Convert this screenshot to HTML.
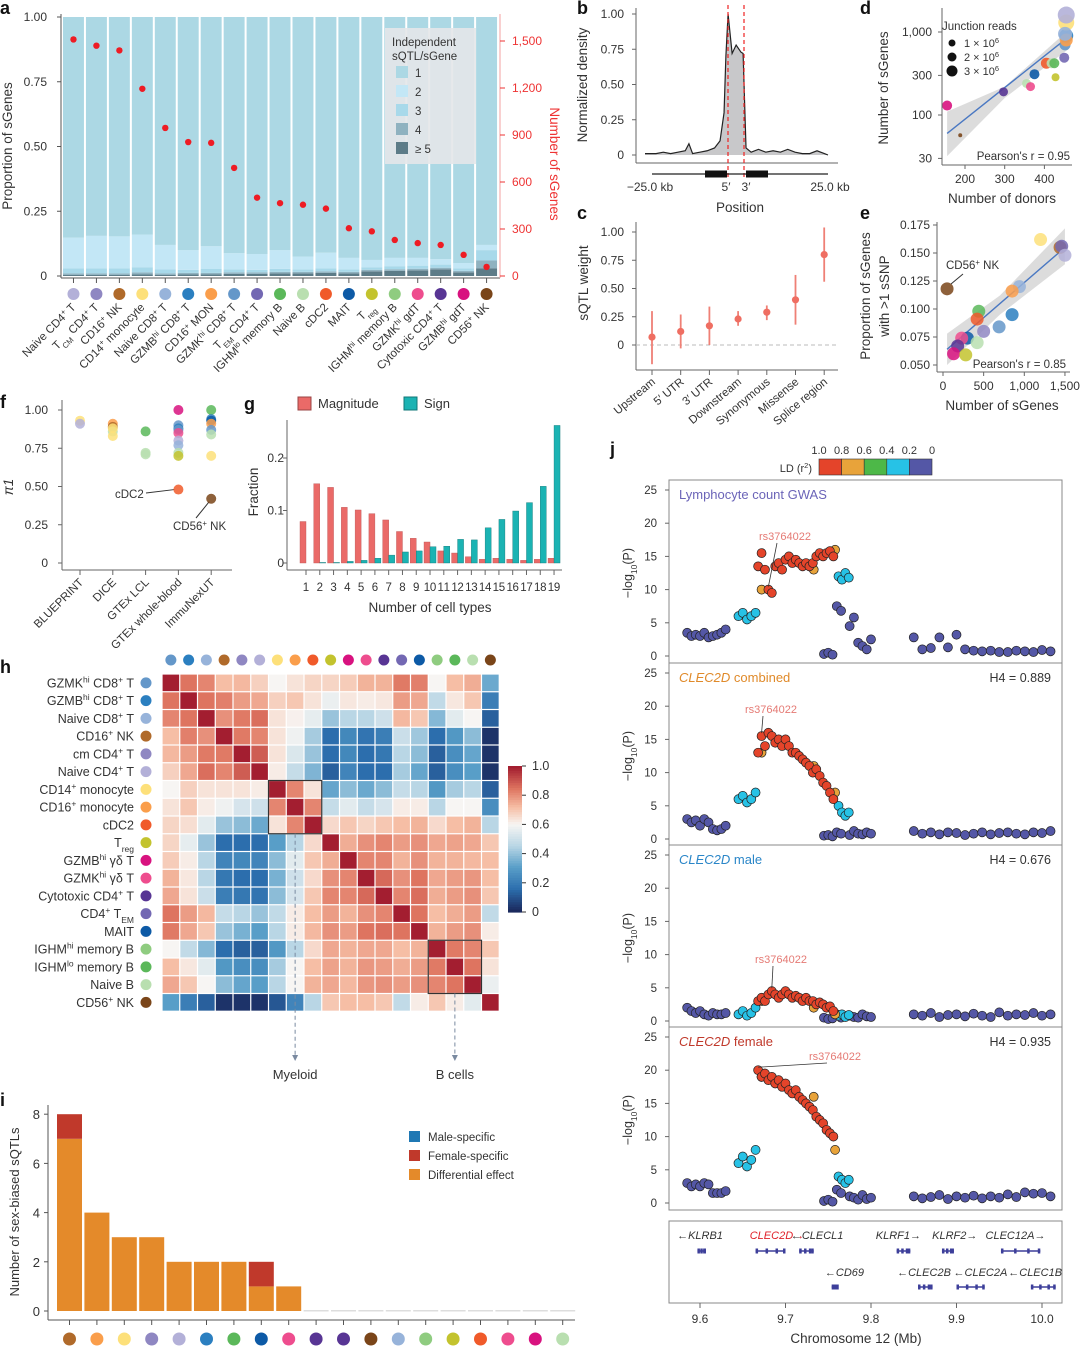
<!DOCTYPE html>
<html><head><meta charset="utf-8">
<style>
html,body{margin:0;padding:0;background:#fff;}
svg{display:block;font-family:"Liberation Sans",sans-serif;}
</style></head>
<body>
<svg id="fig" xmlns="http://www.w3.org/2000/svg" width="1080" height="1347" viewBox="0 0 1080 1347"></svg>
<script>
// ---------- DATA ----------
const aCells = ["Naive CD4^{+} T","T_{CM} CD4^{+} T","CD16^{+} NK","CD14^{+} monocyte","Naive CD8^{+} T","GZMB^{hi} CD8^{+} T","CD16^{+} MON","GZMK^{hi} CD8^{+} T","T_{EM} CD4^{+} T","IGHM^{lo} memory B","Naive B","cDC2","MAIT","T_{reg}","IGHM^{hi} memory B","GZMK^{hi} gdT","Cytotoxic CD4^{+} T","GZMB^{hi} gdT","CD56^{+} NK"];
const aColors = ["#b3b0d8","#8f87c2","#b06a2a","#fde07a","#97b3da","#2b7fc0","#fa9e4b","#6497c9","#7368b3","#5bb85a","#b9dfb0","#f05a2a","#0d5aa6","#c3c32e","#8fcc80","#ee4d8e","#583594","#d8127f","#7a4519"];
const aCounts = [1510,1470,1440,1195,945,855,850,690,500,465,455,430,305,285,230,210,198,135,58];
const aP5 = [.004,.004,.004,.006,.004,.006,.006,.008,.008,.01,.01,.012,.01,.018,.02,.022,.026,.014,.03];
const aP4 = [.006,.006,.006,.008,.006,.006,.006,.006,.006,.006,.006,.006,.006,.006,.006,.006,.006,.006,.03];
const aP3 = [.02,.02,.02,.02,.015,.012,.015,.012,.01,.012,.01,.012,.01,.01,.012,.012,.012,.01,.04];
const aP2 = [.118,.125,.123,.126,.095,.076,.088,.062,.061,.072,.049,.06,.044,.028,.032,.03,.021,.02,.02];
const aLeftTicks = [0,0.25,0.5,0.75,1];
const aLeftTickLabels = ["0","0.25","0.50","0.75","1.00"];
const aRightTicks = [0,300,600,900,1200,1500];
const aRightTickLabels = ["0","300","600","900","1,200","1,500"];

const bPos = [-25,-22,-20,-18,-16,-14,-13,-12,-10,-8,-6,-4.5,-3.4,-2.9,-2.3,-1.2,-0.1,1.2,1.8,2.6,4,6,8,10,12,14,16,18,20,22,24,25];
const bDens = [.01,.01,.02,.01,.02,.03,.08,.01,.02,.03,.05,.1,.3,.7,1.0,.72,.78,.73,.72,.05,.02,.04,.02,.03,.02,.04,.02,.01,.01,.03,.01,0];

const cCats = ["Upstream","5′ UTR","3′ UTR","Downstream","Synonymous","Missense","Splice region"];
const cMean = [.07,.12,.17,.23,.29,.4,.8];
const cLow = [-.17,-.03,0,.17,.22,.18,.56];
const cHigh = [.3,.27,.34,.3,.35,.62,1.04];

const dDonors = [155,188,297,355,365,375,405,418,425,428,450,452,455,455,455,455,452];
const dSgenes = [130,57,190,240,220,310,420,420,420,285,490,700,900,800,1300,1600,950];
const dColors = ["#d8127f","#7a4519","#583594","#b9dfb0","#ee4d8e","#0d5aa6","#f05a2a","#b9dfb0","#5bb85a","#c3c32e","#7368b3","#6497c9","#2b7fc0","#fa9e4b","#fde07a","#b3b0d8","#97b3da"];
const dSize = [5,2,4.5,4.5,4.5,5,5.5,5,5,4,5,5.5,7,6.5,8,8.5,7];

const eSgenes = [50,1200,1440,1460,1500,940,850,440,420,850,690,500,300,230,420,180,130,280];
const eProp = [.118,.162,.155,.156,.148,.12,.116,.098,.091,.095,.084,.080,.074,.074,.070,.067,.060,.059];
const eColors = ["#7a4519","#fde07a","#b06a2a","#7368b3","#b3b0d8","#97b3da","#fa9e4b","#5bb85a","#f05a2a","#2b7fc0","#6497c9","#8f87c2","#0d5aa6","#ee4d8e","#b9dfb0","#583594","#d8127f","#c3c32e"];

const fCats = ["BLUEPRINT","DICE","GTEx LCL","GTEx whole-blood","ImmuNexUT"];
const fGroup = [0,0,1,1,1,1,1,2,2,2,3,3,3,3,3,3,3,3,3,3,4,4,4,4,4,4,4,4];
const fPi = [.93,.91,.91,.89,.86,.83,.88,.86,.72,.71,1.0,.9,.88,.87,.85,.8,.77,.72,.70,.48,1.0,.94,.93,.91,.87,.84,.70,.42];
const fColors = ["#fde07a","#b3b0d8","#fa9e4b","#b06a2a","#b9dfb0","#fde07a","#fde07a","#5bb85a","#b9dfb0","#b9dfb0","#d8127f","#6497c9","#2b7fc0","#6497c9","#ee4d8e","#b3b0d8","#97b3da","#b9dfb0","#c3c32e","#f05a2a","#5bb85a","#2b7fc0","#0d5aa6","#fa9e4b","#6497c9","#b9dfb0","#fde07a","#7a4519"];

const gCats = [1,2,3,4,5,6,7,8,9,10,11,12,13,14,15,16,17,18,19];
const gMag = [.079,.151,.144,.106,.101,.094,.082,.06,.047,.04,.023,.019,.012,.007,.009,.007,.005,.007,.009];
const gSign = [0,.001,.001,.003,.005,.009,.015,.021,.023,.031,.032,.045,.044,.067,.083,.099,.115,.146,.262];

const hCells = ["GZMK^{hi} CD8^{+} T","GZMB^{hi} CD8^{+} T","Naive CD8^{+} T","CD16^{+} NK","cm CD4^{+} T","Naive CD4^{+} T","CD14^{+} monocyte","CD16^{+} monocyte","cDC2","T_{reg}","GZMB^{hi} γδ T","GZMK^{hi} γδ T","Cytotoxic CD4^{+} T","CD4^{+} T_{EM}","MAIT","IGHM^{hi} memory B","IGHM^{lo} memory B","Naive B","CD56^{+} NK"];
const hColors = ["#6497c9","#2b7fc0","#97b3da","#b06a2a","#8f87c2","#b3b0d8","#fde07a","#fa9e4b","#f05a2a","#c3c32e","#d8127f","#ee4d8e","#583594","#7368b3","#0d5aa6","#8fcc80","#5bb85a","#b9dfb0","#7a4519"];
const hMatrix = [
[1,.85,.82,.72,.73,.68,.6,.64,.67,.67,.69,.74,.74,.84,.83,.6,.72,.75,.33],
[.85,1,.85,.83,.78,.76,.68,.70,.64,.57,.63,.62,.63,.78,.76,.47,.63,.7,.2],
[.82,.85,1,.80,.84,.86,.64,.61,.56,.40,.45,.45,.5,.73,.70,.37,.55,.6,.12],
[.72,.83,.8,1,.84,.82,.64,.58,.42,.15,.23,.17,.2,.49,.41,.15,.28,.38,.02],
[.73,.78,.84,.84,1,.89,.64,.53,.40,.15,.23,.15,.18,.45,.38,.12,.25,.32,.02],
[.68,.76,.86,.82,.89,1,.62,.48,.36,.12,.22,.15,.15,.42,.32,.12,.25,.3,.02],
[.6,.68,.64,.64,.64,.62,1,.82,.64,.32,.38,.33,.38,.48,.45,.28,.42,.45,.12],
[.64,.70,.62,.58,.52,.5,.82,1,.82,.48,.55,.48,.52,.62,.62,.45,.6,.6,.25],
[.67,.65,.55,.40,.38,.33,.64,.82,1,.66,.70,.67,.70,.72,.74,.66,.72,.74,.45],
[.67,.56,.40,.15,.15,.15,.30,.45,.66,1,.75,.8,.82,.78,.80,.76,.77,.76,.7],
[.69,.62,.45,.22,.23,.22,.38,.55,.7,.75,1,.82,.82,.74,.80,.74,.74,.73,.72],
[.74,.63,.45,.18,.15,.15,.35,.5,.66,.8,.82,1,.87,.8,.85,.76,.78,.79,.72],
[.76,.64,.49,.20,.18,.17,.38,.52,.7,.82,.82,.87,1,.82,.86,.75,.78,.8,.7],
[.85,.78,.73,.48,.45,.40,.47,.62,.72,.78,.74,.80,.82,1,.85,.72,.75,.78,.47],
[.84,.76,.70,.40,.35,.30,.45,.62,.73,.80,.78,.85,.86,.85,1,.74,.78,.8,.62],
[.6,.47,.37,.15,.12,.12,.28,.45,.66,.76,.74,.76,.76,.72,.74,1,.84,.82,.7],
[.72,.63,.55,.28,.25,.25,.42,.6,.72,.77,.74,.79,.78,.75,.78,.84,1,.85,.64],
[.76,.7,.6,.38,.32,.3,.45,.6,.74,.76,.73,.79,.8,.78,.8,.82,.85,1,.57],
[.3,.2,.12,.02,.02,.02,.1,.22,.45,.7,.72,.72,.7,.47,.62,.7,.62,.55,1]];

const iColors = ["#b06a2a","#fa9e4b","#fde07a","#8f87c2","#b3b0d8","#2b7fc0","#5bb85a","#0d5aa6","#ee4d8e","#583594","#583594","#7a4519","#97b3da","#8fcc80","#c3c32e","#f05a2a","#ee4d8e","#d8127f","#b9dfb0"];
const iDiff = [7,4,3,3,2,2,2,1,1,0,0,0,0,0,0,0,0,0,0];
const iFemale = [1,0,0,0,0,0,0,1,0,0,0,0,0,0,0,0,0,0,0];
const iMale = [0,0,0,0,0,0,0,0,0,0,0,0,0,0,0,0,0,0,0];

const jPos = [9.585,9.59,9.595,9.60,9.605,9.61,9.615,9.62,9.625,9.63,
 9.645,9.65,9.655,9.66,9.665,
 9.668,9.672,9.676,9.68,9.684,9.688,9.692,9.696,9.70,9.704,9.708,9.712,9.716,9.72,9.724,9.728,9.732,9.736,9.74,9.744,9.748,9.752,9.756,
 9.672,9.733,9.758,
 9.762,9.766,9.77,9.774,
 9.745,9.75,9.755,
 9.76,9.765,9.775,9.78,9.785,9.79,9.795,9.80,
 9.85,9.86,9.87,9.88,9.89,9.90,9.91,9.92,9.93,9.94,9.95,9.96,9.97,9.98,9.99,10.0,10.01];
const jLD = [.1,.1,.1,.1,.1,.1,.1,.1,.1,.1, .3,.3,.3,.3,.3,
 .9,.9,.9,.9,.9,.9,.9,.9,.9,.9,.9,.9,.9,.9,.9,.9,.9,.9,.9,.9,.9,.9,.9,
 .7,.7,.7, .3,.3,.3,.3, .1,.1,.1, .1,.1,.1,.1,.1,.1,.1,.1,
 .1,.1,.1,.1,.1,.1,.1,.1,.1,.1,.1,.1,.1,.1,.1,.1,.1];
const jGwas = [3.5,3,3.2,3,3.5,2.8,3,3.2,3.5,4, 6,6.5,5.5,6,6.5,
 13.5,15.5,13,10,9.5,13.5,14,13,14.5,15,14,14.5,14,13.5,14,13.5,14,15,15.5,15,15.5,15.8,15,
 10,13,16, 12,11.5,12.5,11.8, .3,.5,.2, 7.5,6.8,4.5,5.8,2,1.5,1,2.5,
 2.8,1,1.2,2.8,1.3,3.2,1,.8,.7,.8,.6,.6,.8,.7,.6,.9,.7];
const jComb = [3,2.5,2.8,2,3,2.5,1.5,1.3,1.5,2, 6,6.5,5.5,6,7,
 13,15.5,14,16,15.5,14.5,15,14,15,14,13,13,12.5,12,11.5,11,10,10.5,9.5,8.5,8,7,6,
 13,11,7, 5,4,3.5,4, .5,.6,.4, 1,.8,.6,1.2,.8,.7,1,.8,
 1.2,.8,1,.7,1,.9,.6,.8,1,.7,.9,1,.8,.7,1,.9,1.2];
const jMale = [2,1.5,1.2,1.5,1,.8,1.2,1,1,1.2, 1,1.5,.8,1.2,2,
 3,3.5,3,4,4.5,4,3.5,4,4.5,4,3.5,3.8,3.5,3,3.5,3,3,2.5,2.8,2.5,2,2.2,1.5,
 3,2,1, .8,1,.6,.9, .5,.3,.4, 1,.5,.8,.6,.5,1,.7,.6,
 1,.8,1.2,.6,.9,1,.7,1.1,.8,.6,1.3,.8,1,.9,1.2,.8,1];
const jFemale = [3,2.5,2.8,2.5,3,2.8,1.5,1.5,1.5,1.8, 6,7,5.5,6.5,8,
 20,19,19.5,18.5,19,18,18.5,17.5,18,17,16.5,17,16,15.5,15,14.5,14,13,12.5,12,11,10.5,10,
 19,16,8, 4,3.5,3,3.5, .3,.5,.2, 2,1.5,1,.8,.5,1.2,.6,.8,
 1,.7,.9,1.2,.6,1,.8,1.1,.7,1,.8,1.3,.9,1.6,1.4,1.5,1];
const jTicks = [9.6,9.7,9.8,9.9,10.0];
const jTickLabels = ["9.6","9.7","9.8","9.9","10.0"];
const jYTicks = [0,5,10,15,20,25];
const genes = ["KLRB1","CLEC2D","CLECL1","KLRF1","KLRF2","CLEC12A","CD69","CLEC2B","CLEC2A","CLEC1B"];
const geneStart = [9.597,9.665,9.716,9.830,9.883,9.952,9.754,9.855,9.900,9.987];
const geneEnd = [9.607,9.700,9.733,9.846,9.897,9.998,9.762,9.872,9.933,10.016];
const geneRow = [0,0,0,0,0,0,1,1,1,1];
const geneDir = [-1,1,-1,1,1,1,-1,-1,-1,-1];
const geneLabelMb = [9.600,9.690,9.737,9.832,9.898,9.969,9.769,9.862,9.928,9.992];

// ---------- HELPERS ----------
const NS = "http://www.w3.org/2000/svg";
const svg = document.getElementById("fig");
function el(tag, a, parent){ const e = document.createElementNS(NS, tag); for (const k in a) e.setAttribute(k, a[k]); (parent||svg).appendChild(e); return e; }
function rich(t, s){
  const re = /(\^\{[^}]*\}|_\{[^}]*\})/g; let last = 0, m;
  const push = (str, kind) => { const ts = document.createElementNS(NS,"tspan"); ts.textContent = str;
    if (kind){ ts.setAttribute("font-size", "0.68em"); ts.setAttribute("baseline-shift", kind==="^" ? "super" : "sub"); }
    t.appendChild(ts); };
  while ((m = re.exec(s))){ if (m.index > last) push(s.slice(last, m.index)); push(m[0].slice(2,-1), m[0][0]); last = m.index + m[0].length; }
  if (last < s.length) push(s.slice(last));
}
function txt(x, y, s, o){ o = o||{}; const t = el("text", {x:x, y:y, "font-size":o.size||12, fill:o.fill||"#333", "text-anchor":o.anchor||"start"});
  if (o.rot) t.setAttribute("transform", `rotate(${o.rot} ${x} ${y})`);
  if (o.weight) t.setAttribute("font-weight", o.weight);
  if (o.style) t.setAttribute("font-style", o.style);
  rich(t, s); return t; }
function line(x1,y1,x2,y2,c,w,dash){ const l = el("line",{x1:x1,y1:y1,x2:x2,y2:y2,stroke:c||"#555","stroke-width":w||1}); if (dash) l.setAttribute("stroke-dasharray",dash); return l; }

[["a",0,14],["b",577,14],["c",577,219],["d",860,14],["e",860,219],["f",0,408],["g",244,410],["h",0,673],["i",0,1106],["j",610,455]].forEach(p=>{
  const t = txt(p[1], p[2], p[0], {size:18, weight:"bold", fill:"#111"});
  
  
});

// ---------- PANEL A ----------
(function(){
  const x0 = 62, slot = 22.95;
  const ay = v => 276 - v*259;
  const ar = n => 276 - n*47/300;
  const ax = i => x0 + i*slot;
  aCells.forEach((c,i)=>{
    const x = ax(i)+1, w = slot-2;
    let cum = 0;
    const parts = [[aP5[i],"#5d7c88"],[aP4[i],"#8fb2c0"],[aP3[i],"#a8d9ea"],[aP2[i],"#c3e7f6"]];
    parts.forEach((p,k)=>{
      const r = el("rect",{x:x, y:ay(cum+p[0]), width:w, height:p[0]*259, fill:p[1]});
      
      
      cum += p[0];
    });
    const r1 = el("rect",{x:x, y:ay(1), width:w, height:(1-cum)*259, fill:"#acd8e4"});
    
    
    const d = el("circle",{cx:x+w/2, cy:ar(aCounts[i]), r:3.2, fill:"#ee1c24"});
    
    
    line(x+w/2, 278, x+w/2, 283, "#555");
    const cd = el("circle",{cx:x+w/2, cy:294, r:6, fill:aColors[i]});
    
    
    const lt = txt(x+w/2+3, 308, c, {anchor:"end", rot:-45, size:11.5});
    
    
  });
  line(61, 14, 61, 278, "#555"); line(61, 278, 500, 278, "#555");
  line(500, 14, 500, 278, "#f3a0a0");
  aLeftTicks.forEach((v,k)=>{ line(57, ay(v), 61, ay(v), "#555"); txt(47, ay(v)+4, aLeftTickLabels[k], {anchor:"end"}); });
  aRightTicks.forEach((v,k)=>{ line(500, ar(v), 505, ar(v), "#e33"); txt(512, ar(v)+4, aRightTickLabels[k], {fill:"#e33"}); });
  const yl = txt(12, 146, "Proportion of sGenes", {anchor:"middle", rot:-90, size:13.5});
   
  const yr = txt(550, 164, "Number of sGenes", {anchor:"middle", rot:90, size:13.5, fill:"#e33"});
   
  const lg = el("rect",{x:385, y:28, width:91, height:136, fill:"#e4e7e9", opacity:0.9});
   
  txt(392, 46, "Independent", {size:11.5}); txt(392, 60, "sQTL/sGene", {size:11.5});
  const lc = ["#acd8e4","#c3e7f6","#a8d9ea","#8fb2c0","#5d7c88"], ll = ["1","2","3","4","≥ 5"];
  ll.forEach((l,k)=>{ const r = el("rect",{x:396, y:66+k*19, width:12, height:12, fill:lc[k]});
     
    txt(415, 77+k*19, l, {size:11.5}); });
})();

// ---------- PANEL B ----------
(function(){
  const bx = k => 645 + (k+25)*3.66;
  const by = v => 155 - v*141;
  let d = `M${bx(bPos[0])},${by(0)}`;
  bPos.forEach((p,i)=> d += ` L${bx(p)},${by(bDens[i])}`);
  const area = el("path",{d:d+` L${bx(25)},${by(0)} Z`, fill:"#c8c8ca"});
   
  let d2 = ""; bPos.forEach((p,i)=> d2 += (i?" L":"M")+bx(p)+","+by(bDens[i]));
  const ln = el("path",{d:d2, fill:"none", stroke:"#222", "stroke-width":1.2});
   
  line(636, 8, 636, 163, "#666"); line(636, 163, 838, 163, "#666");
  [[0,"0"],[.25,"0.25"],[.5,"0.50"],[.75,"0.75"],[1,"1.00"]].forEach(t=>{ line(632, by(t[0]), 636, by(t[0]), "#666"); txt(624, by(t[0])+4, t[1], {anchor:"end"}); });
  line(728, 5, 728, 178, "#e22", 1.2, "4,3"); line(744, 5, 744, 178, "#e22", 1.2, "4,3");
  line(652, 174, 828, 174, "#222", 1.2);
  el("rect",{x:705, y:170.5, width:22, height:7, fill:"#111"}); el("rect",{x:746, y:170.5, width:22, height:7, fill:"#111"});
  txt(650, 191, "−25.0 kb", {anchor:"middle"}); txt(830, 191, "25.0 kb", {anchor:"middle"});
  txt(726, 191, "5′", {anchor:"middle"}); txt(746, 191, "3′", {anchor:"middle"});
  txt(740, 212, "Position", {anchor:"middle", size:13.5});
  txt(587, 85, "Normalized density", {anchor:"middle", rot:-90, size:13.5});
})();

// ---------- PANEL C ----------
(function(){
  const cy = v => 345 - v*113;
  const cx = i => 652 + i*28.7;
  line(636, 222, 636, 370, "#666"); line(636, 370, 838, 370, "#666");
  line(636, cy(0), 838, cy(0), "#bbb", 1, "4,3");
  [[0,"0"],[.25,"0.25"],[.5,"0.50"],[.75,"0.75"],[1,"1.00"]].forEach(t=>{ line(632, cy(t[0]), 636, cy(t[0]), "#666"); txt(624, cy(t[0])+4, t[1], {anchor:"end"}); });
  cCats.forEach((c,i)=>{
    const e = line(cx(i), cy(cLow[i]), cx(i), cy(cHigh[i]), "#ef8076", 1.8);
     
    const p = el("circle",{cx:cx(i), cy:cy(cMean[i]), r:3.6, fill:"#ef6e62"});
     
    line(cx(i), 370, cx(i), 375, "#666");
    txt(cx(i)+4, 383, c, {anchor:"end", rot:-40, size:11.5});
  });
  txt(588, 283, "sQTL weight", {anchor:"middle", rot:-90, size:13.5});
})();

// ---------- PANEL D ----------
(function(){
  const dx = v => 965 + (v-200)*0.397;
  const dy = v => 115 - (Math.log10(v)-2)*83;
  el("polygon",{points:`${dx(155)},${dy(110)} ${dx(300)},${dy(220)} ${dx(460)},${dy(1050)} ${dx(460)},${dy(620)} ${dx(300)},${dy(160)} ${dx(155)},${dy(32)}`, fill:"#d6d6d6", opacity:0.85});
  const rl = line(dx(155), dy(60), dx(460), dy(870), "#4a78c2", 1.4);
   
  dDonors.forEach((v,i)=>{ const c = el("circle",{cx:dx(v), cy:dy(dSgenes[i]), r:dSize[i], fill:dColors[i], opacity:0.9});
      });
  line(942, 8, 942, 165, "#666"); line(942, 165, 1072, 165, "#666");
  [[30,"30"],[100,"100"],[300,"300"],[1000,"1,000"]].forEach(t=>{ line(938, dy(t[0]), 942, dy(t[0]), "#666"); txt(932, dy(t[0])+4, t[1], {anchor:"end"}); });
  [200,300,400].forEach(v=>{ line(dx(v),165,dx(v),169,"#666"); txt(dx(v), 183, String(v), {anchor:"middle"}); });
  txt(1002, 203, "Number of donors", {anchor:"middle", size:13.5});
  txt(888, 88, "Number of sGenes", {anchor:"middle", rot:-90, size:13.5});
  txt(942, 30, "Junction reads", {size:11.5});
  [[3.5,"1 × 10^{6}",43],[4.5,"2 × 10^{6}",57],[5.5,"3 × 10^{6}",71]].forEach(l=>{ el("circle",{cx:952, cy:l[2], r:l[0], fill:"#111"}); txt(964, l[2]+4, l[1], {size:11}); });
  txt(1070, 160, "Pearson's r = 0.95", {anchor:"end", size:11.5});
})();

// ---------- PANEL E ----------
(function(){
  const ex = v => 943 + v*0.0813;
  const ey = v => 365 - (v-0.05)/0.025*28;
  el("polygon",{points:`${ex(50)},${ey(.078)} ${ex(700)},${ey(.112)} ${ex(1500)},${ey(.172)} ${ex(1500)},${ey(.14)} ${ex(700)},${ey(.095)} ${ex(50)},${ey(.050)}`, fill:"#d6d6d6", opacity:0.85});
  const rl = line(ex(50), ey(.064), ex(1500), ey(.155), "#4a78c2", 1.4);
   
  eSgenes.forEach((v,i)=>{ const c = el("circle",{cx:ex(v), cy:ey(eProp[i]), r:6.5, fill:eColors[i], opacity:0.85});
      });
  line(937, 222, 937, 372, "#666"); line(937, 372, 1070, 372, "#666");
  [[.05,"0.050"],[.075,"0.075"],[.1,"0.100"],[.125,"0.125"],[.15,"0.150"],[.175,"0.175"]].forEach(t=>{ line(933, ey(t[0]), 937, ey(t[0]), "#666"); txt(930, ey(t[0])+4, t[1], {anchor:"end"}); });
  [[0,"0"],[500,"500"],[1000,"1,000"],[1500,"1,500"]].forEach(t=>{ line(ex(t[0]),372,ex(t[0]),376,"#666"); txt(ex(t[0]), 390, t[1], {anchor:"middle"}); });
  txt(1002, 410, "Number of sGenes", {anchor:"middle", size:13.5});
  txt(870, 296, "Proportion of sGenes", {anchor:"middle", rot:-90, size:13.5});
  txt(889, 296, "with >1 sSNP", {anchor:"middle", rot:-90, size:13.5});
  txt(946, 269, "CD56^{+} NK", {size:11.5}); line(963, 274, 951, 284, "#333");
  txt(1066, 368, "Pearson's r = 0.85", {anchor:"end", size:11.5});
})();

// ---------- PANEL F ----------
(function(){
  const fx = i => 80 + i*32.8;
  const fy = v => 563 - v*153;
  line(62, 400, 62, 570, "#666"); line(62, 570, 232, 570, "#666");
  [[0,"0"],[.25,"0.25"],[.5,"0.50"],[.75,"0.75"],[1,"1.00"]].forEach(t=>{ line(58, fy(t[0]), 62, fy(t[0]), "#666"); txt(48, fy(t[0])+4, t[1], {anchor:"end"}); });
  fCats.forEach((c,i)=>{ line(fx(i),570,fx(i),575,"#666"); txt(fx(i)+4, 583, c, {anchor:"end", rot:-45, size:11.5}); });
  line(146, 493, fx(3)-4, fy(.48), "#333"); line(fx(4)-2, fy(.42)+3, 196, 518, "#333");
  fPi.forEach((v,i)=>{ const c = el("circle",{cx:fx(fGroup[i]), cy:fy(v), r:5, fill:fColors[i], opacity:0.85});
      });
  txt(115, 498, "cDC2", {size:11.5}); txt(173, 530, "CD56^{+} NK", {size:11.5});
  txt(13, 487, "π1", {anchor:"middle", rot:-90, size:13.5, style:"italic"});
})();

// ---------- PANEL G ----------
(function(){
  const gx = i => 306 + i*13.78;
  const gy = v => 563 - v*525;
  line(287, 420, 287, 570, "#666"); line(287, 570, 562, 570, "#666");
  [[0,"0"],[.1,"0.1"],[.2,"0.2"]].forEach(t=>{ line(283, gy(t[0]), 287, gy(t[0]), "#666"); txt(284, gy(t[0])+4, t[1], {anchor:"end"}); });
  gCats.forEach((c,i)=>{
    const m = el("rect",{x:gx(i)-6, y:gy(gMag[i]), width:6, height:gMag[i]*525, fill:"#ea6a68", stroke:"#b55", "stroke-width":0.4});
     
    const s = el("rect",{x:gx(i), y:gy(gSign[i]), width:6, height:gSign[i]*525, fill:"#1bb3b3", stroke:"#177", "stroke-width":0.4});
     
    line(gx(i),570,gx(i),575,"#666");
    const t = txt(gx(i), 591, String(c), {anchor:"middle", size:11.5});
    if (c >= 10) t.setAttribute("textLength", "12.5");
  });
  txt(430, 612, "Number of cell types", {anchor:"middle", size:13.5});
  txt(258, 492, "Fraction", {anchor:"middle", rot:-90, size:13.5});
  el("rect",{x:298, y:397, width:13, height:13, fill:"#ea6a68", stroke:"#944"}); txt(318, 408, "Magnitude", {size:13});
  el("rect",{x:404, y:397, width:13, height:13, fill:"#1bb3b3", stroke:"#177"}); txt(424, 408, "Sign", {size:13});
})();

// ---------- PANEL H ----------
function rdbu(v){
  const st = [[0,[27,42,94]],[.15,[44,110,173]],[.3,[88,158,200]],[.45,[185,214,229]],[.6,[247,245,243]],[.72,[246,190,165]],[.85,[222,116,96]],[1,[163,30,48]]];
  v = Math.max(0, Math.min(1, v));
  for (let k=1;k<st.length;k++){ if (v <= st[k][0]){ const a=st[k-1], b=st[k], t=(v-a[0])/(b[0]-a[0]);
    return `rgb(${a[1].map((c,j)=>Math.round(c+(b[1][j]-c)*t)).join(",")})`; } }
  return "rgb(163,30,48)";
}
(function(){
  const x0 = 162, y0 = 674, cs = 17.75;
  hCells.forEach((c,i)=>{
    const t = txt(134, y0+i*cs+cs/2+4.5, c, {anchor:"end", size:12.5});
     
    el("circle",{cx:146, cy:y0+i*cs+cs/2, r:5.5, fill:hColors[i]});
    el("circle",{cx:x0+i*cs+cs/2, cy:660, r:5.5, fill:hColors[i]});
    hMatrix[i].forEach((v,j)=>{
      const r = el("rect",{x:x0+j*cs+0.6, y:y0+i*cs+0.6, width:cs-1.2, height:cs-1.2, fill:rdbu(v)});
       
    });
  });
  el("rect",{x:x0+6*cs, y:y0+6*cs, width:3*cs, height:3*cs, fill:"none", stroke:"#333", "stroke-width":1.2});
  el("rect",{x:x0+15*cs, y:y0+15*cs, width:3*cs, height:3*cs, fill:"none", stroke:"#333", "stroke-width":1.2});
  const mx = x0+7.5*cs, bx = x0+16.5*cs;
  line(mx, y0+9*cs, mx, 1058, "#7a8aa0", 1, "4,3"); el("path",{d:`M${mx-3},${1055} L${mx+3},${1055} L${mx},${1061} Z`, fill:"#7a8aa0"});
  line(bx, y0+18*cs, bx, 1058, "#7a8aa0", 1, "4,3"); el("path",{d:`M${bx-3},${1055} L${bx+3},${1055} L${bx},${1061} Z`, fill:"#7a8aa0"});
  txt(mx, 1079, "Myeloid", {anchor:"middle", size:13}); txt(bx, 1079, "B cells", {anchor:"middle", size:13});
  const cbTicks = [0,.2,.4,.6,.8,1], cbLabels = ["0","0.2","0.4","0.6","0.8","1.0"];
  for (let k=0;k<60;k++){ const v = 1-k/59; el("rect",{x:508, y:766+k*146/60, width:14, height:146/60+0.6, fill:rdbu(v)}); }
  cbTicks.forEach((v,k)=>{ const y = 912 - v*146; line(522, y, 526, y, "#333"); txt(532, y+4, cbLabels[k], {size:12.5}); });
})();

// ---------- PANEL I ----------
(function(){
  const ix = i => 57 + i*27.4;
  const iy = v => 1311 - v*24.6;
  line(48, 1105, 48, 1320, "#555"); line(48, 1320, 575, 1320, "#555");
  [0,2,4,6,8].forEach(v=>{ line(44, iy(v), 48, iy(v), "#555"); txt(40, iy(v)+5, String(v), {anchor:"end", size:13}); });
  iDiff.forEach((v,i)=>{
    const x = ix(i), w = 25;
    const rd = el("rect",{x:x, y:iy(v), width:w, height:v*24.6, fill:"#e48a2a"});
     
    const rf = el("rect",{x:x, y:iy(v+iFemale[i]), width:w, height:iFemale[i]*24.6, fill:"#c0392b"});
     
    const rm = el("rect",{x:x, y:iy(v+iFemale[i]+iMale[i]), width:w, height:iMale[i]*24.6, fill:"#1f78b4"});
     
    if (v+iFemale[i]+iMale[i]===0) el("rect",{x:x, y:1310, width:w, height:1.5, fill:"#ddd"});
    line(x+w/2, 1320, x+w/2, 1325, "#555");
    el("circle",{cx:x+w/2, cy:1339, r:6.5, fill:iColors[i]});
  });
  txt(19, 1212, "Number of sex-biased sQTLs", {anchor:"middle", rot:-90, size:13});
  [["#1f78b4","Male-specific"],["#c0392b","Female-specific"],["#e48a2a","Differential effect"]].forEach((l,k)=>{
    const r = el("rect",{x:409, y:1131+k*19, width:11, height:11, fill:l[0]});
     
    txt(428, 1141+k*19, l[1], {size:11.5}); });
})();

// ---------- PANEL J ----------
(function(){
  const jx = v => 700 + (v-9.6)*855;
  const ldColor = v => v>=.8 ? "#e4442a" : v>=.6 ? "#e8a33a" : v>=.4 ? "#4db848" : v>=.2 ? "#27c2e6" : "#5457a6";
  const ldc = ["#e4442a","#e8a33a","#4db848","#27c2e6","#5457a6"];
  ldc.forEach((c,k)=>{ el("rect",{x:819+k*22.6, y:459, width:22.6, height:16, fill:c, stroke:"#333", "stroke-width":0.6}); });
  ["1.0","0.8","0.6","0.4","0.2","0"].forEach((l,k)=> txt(819+k*22.6, 454, l, {anchor:"middle", size:11}));
  txt(812, 472, "LD (r^{2})", {anchor:"end", size:11});
  const panels = [
    {top:490, data:jGwas, title:"Lymphocyte count GWAS", tc:"#6b64b8", h4:"", lab:[785,540], pk:18},
    {top:673, data:jComb, title:"CLEC2D combined", tc:"#e08a2a", h4:"H4 = 0.889", lab:[771,713], pk:16},
    {top:855, data:jMale, title:"CLEC2D male", tc:"#2a86c8", h4:"H4 = 0.676", lab:[781,963], pk:19},
    {top:1037, data:jFemale, title:"CLEC2D female", tc:"#c0392b", h4:"H4 = 0.935", lab:[835,1060], pk:15}];
  el("rect",{x:669, y:480, width:393, height:730, fill:"none", stroke:"#888", "stroke-width":1});
  panels.forEach((p,pi)=>{
    const jy = v => p.top + 166 - v*6.64;
    if (pi>0) line(669, p.top-10, 1062, p.top-10, "#888");
    jYTicks.forEach(v=>{ line(665, jy(v), 669, jy(v), "#666"); txt(657, jy(v)+4, String(v), {anchor:"end", size:11.5}); });
    txt(632, p.top+83, "−log_{10}(P)", {anchor:"middle", rot:-90, size:12.5});
    const t = txt(679, p.top+9, p.title, {size:13, fill:p.tc});
    if (pi>0){ t.textContent=""; const a=document.createElementNS(NS,"tspan"); a.setAttribute("font-style","italic"); a.textContent="CLEC2D"; t.appendChild(a);
      const b=document.createElementNS(NS,"tspan"); b.textContent=p.title.replace("CLEC2D",""); t.appendChild(b); }
    if (p.h4) txt(1051, p.top+9, p.h4, {anchor:"end", size:12.5});
    const order = jPos.map((v,i)=>i).sort((a,b)=>jLD[a]-jLD[b]);
    order.forEach(i=>{
      const c = el("circle",{cx:jx(jPos[i]), cy:jy(p.data[i]), r:4.5, fill:ldColor(jLD[i]), stroke:"#222", "stroke-width":0.7});
      
      
    });
    txt(p.lab[0], p.lab[1], "rs3764022", {anchor:"middle", size:11, fill:"#e57a74"});
    line(p.lab[0]-8, p.lab[1]+3, jx(jPos[p.pk]), jy(p.data[p.pk])-3, "#333", 0.8);
  });
  el("rect",{x:669, y:1221, width:393, height:82, fill:"none", stroke:"#888"});
  genes.forEach((g,i)=>{
    const y = geneRow[i] ? 1287 : 1251;
    const ly = geneRow[i] ? 1276 : 1239;
    const s = jx(geneStart[i]), e = jx(geneEnd[i]);
    line(s, y, e, y, "#3d3f9a", 1.5);
    for (let k=0;k<3;k++){ el("rect",{x:s+k*(e-s)/3, y:y-2.5, width:2.5, height:5, fill:"#3d3f9a"}); }
    el("rect",{x:e-2.5, y:y-2.5, width:2.5, height:5, fill:"#3d3f9a"});
    const lbl = geneDir[i]<0 ? "←"+g : g+"→";
    const t = txt(jx(geneLabelMb[i]), ly, lbl, {anchor:"middle", size:11, style:"italic", fill: g==="CLEC2D" ? "#e0222a" : "#333"});
    
    
  });
  jTicks.forEach((v,k)=>{ line(jx(v), 1303, jx(v), 1308, "#666"); txt(jx(v), 1323, jTickLabels[k], {anchor:"middle", size:12}); });
  txt(856, 1343, "Chromosome 12 (Mb)", {anchor:"middle", size:13.5});
})();
</script>
</body></html>
